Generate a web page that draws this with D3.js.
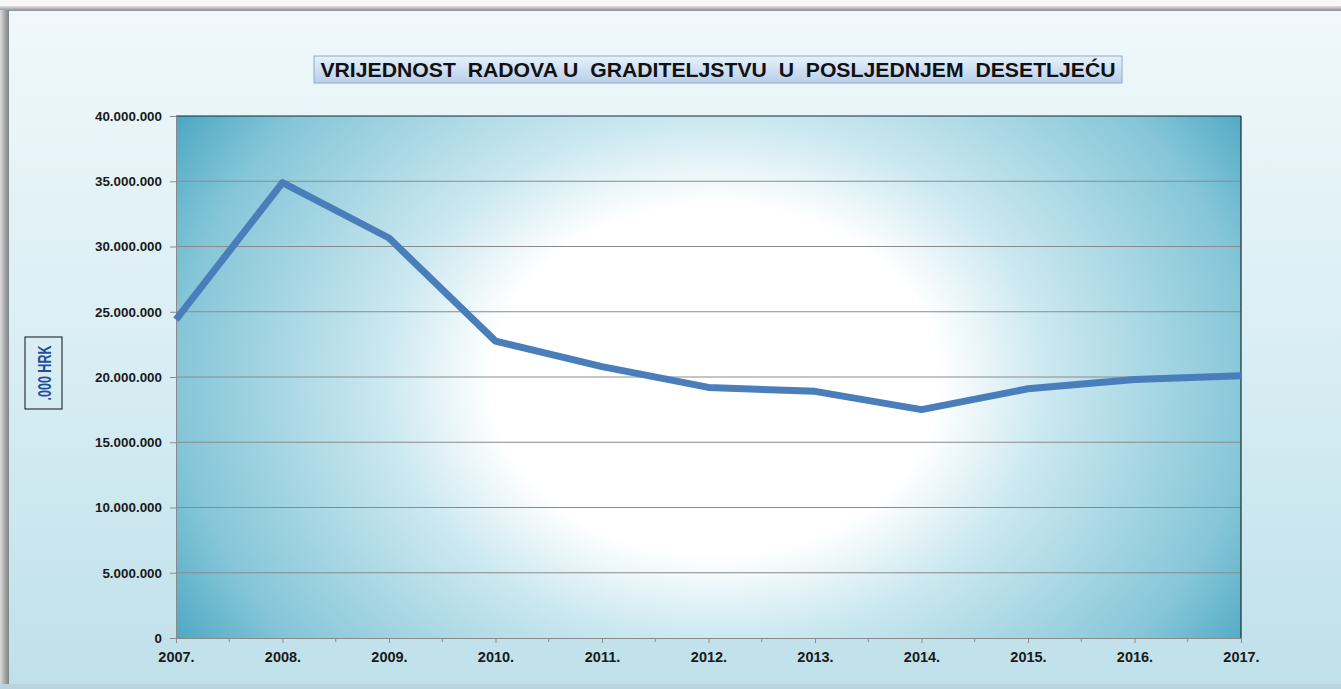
<!DOCTYPE html>
<html>
<head>
<meta charset="utf-8">
<script src="https://cdn.jsdelivr.net/npm/d3@7"></script>
<style>
html,body{margin:0;padding:0;background:#f6f6f6;}
svg{display:block;}
</style>
</head>
<body>
<svg id="chart" width="1341" height="689"></svg>
<script>
const years = ["2007.","2008.","2009.","2010.","2011.","2012.","2013.","2014.","2015.","2016.","2017."];
const values = [24400000, 34900000, 30650000, 22750000, 20800000, 19200000, 18900000, 17500000, 19100000, 19800000, 20100000];
const yTicks = [0, 5000000, 10000000, 15000000, 20000000, 25000000, 30000000, 35000000, 40000000];
const titleText = "VRIJEDNOST  RADOVA U  GRADITELJSTVU  U  POSLJEDNJEM  DESETLJEĆU";
const yAxisLabel = ".000 HRK";

const svg = d3.select("#chart");
const W = 1341, H = 689;
const defs = svg.append("defs");

const pg = defs.append("linearGradient").attr("id","panelGrad").attr("x1",0).attr("y1",0).attr("x2",0).attr("y2",1);
pg.append("stop").attr("offset","0%").attr("stop-color","#f0f8fb");
pg.append("stop").attr("offset","50%").attr("stop-color","#d9eef4");
pg.append("stop").attr("offset","100%").attr("stop-color","#bfe0ea");

const lg = defs.append("linearGradient").attr("id","leftShade").attr("x1",0).attr("y1",0).attr("x2",1).attr("y2",0);
lg.append("stop").attr("offset","0%").attr("stop-color","#dcdcdc");
lg.append("stop").attr("offset","60%").attr("stop-color","#9a9a9a");
lg.append("stop").attr("offset","100%").attr("stop-color","#6f7f85");

const tg = defs.append("linearGradient").attr("id","topShade").attr("x1",0).attr("y1",0).attr("x2",0).attr("y2",1);
tg.append("stop").attr("offset","0%").attr("stop-color","#e0e0e0");
tg.append("stop").attr("offset","100%").attr("stop-color","#7a7a7a");

const rg = defs.append("radialGradient").attr("id","plotGrad")
  .attr("gradientUnits","userSpaceOnUse")
  .attr("cx",715).attr("cy",380).attr("r",640)
  .attr("gradientTransform","translate(715,380) scale(1,0.78) translate(-715,-380)");
rg.append("stop").attr("offset","0%").attr("stop-color","#ffffff");
rg.append("stop").attr("offset","35%").attr("stop-color","#ffffff");
rg.append("stop").attr("offset","52%").attr("stop-color","#cbe8f0");
rg.append("stop").attr("offset","84%").attr("stop-color","#85c6d8");
rg.append("stop").attr("offset","100%").attr("stop-color","#4aa6c2");

const titleGrad = defs.append("linearGradient").attr("id","titleGrad").attr("x1",0).attr("y1",0).attr("x2",0).attr("y2",1);
titleGrad.append("stop").attr("offset","0%").attr("stop-color","#e8f1fb");
titleGrad.append("stop").attr("offset","100%").attr("stop-color","#b7cfe9");

svg.append("rect").attr("x",0).attr("y",0).attr("width",W).attr("height",H).attr("fill","#f7f7f7");
svg.append("rect").attr("x",0).attr("y",6).attr("width",W).attr("height",6).attr("fill","url(#topShade)");
svg.append("rect").attr("x",0).attr("y",10).attr("width",10).attr("height",H-10).attr("fill","url(#leftShade)");
svg.append("rect").attr("x",9).attr("y",11).attr("width",W-9).attr("height",673).attr("fill","url(#panelGrad)");
svg.append("rect").attr("x",0).attr("y",684).attr("width",W).attr("height",5).attr("fill","#b9d4dc");

const margin = {left:176, right:1241, top:116, bottom:638};
const x = d3.scalePoint().domain(years).range([margin.left, margin.right]);
const y = d3.scaleLinear().domain([0, 40000000]).range([margin.bottom, margin.top]);

svg.append("rect").attr("x",margin.left).attr("y",margin.top)
  .attr("width",margin.right-margin.left).attr("height",margin.bottom-margin.top)
  .attr("fill","url(#plotGrad)");

svg.append("g").selectAll("line").data(yTicks.filter(d=>d>0 && d<40000000)).join("line")
  .attr("x1",margin.left).attr("x2",margin.right)
  .attr("y1",d=>y(d)).attr("y2",d=>y(d))
  .attr("stroke","#8a8a8a").attr("stroke-width",1);

svg.append("line").attr("x1",margin.left).attr("x2",margin.right).attr("y1",margin.top).attr("y2",margin.top).attr("stroke","#1a2a30").attr("stroke-width",1.2);
svg.append("line").attr("x1",margin.right).attr("x2",margin.right).attr("y1",margin.top).attr("y2",margin.bottom).attr("stroke","#1a2a30").attr("stroke-width",1.2);

const fmt = d => d === 0 ? "0" : d3.format(",")(d).replace(/,/g,".");

const yAxis = d3.axisLeft(y).tickValues(yTicks).tickFormat(fmt).tickSize(6).tickPadding(8);
const gy = svg.append("g").attr("transform",`translate(${margin.left},0)`).call(yAxis);
gy.select(".domain").attr("stroke","#8a8a8a");
gy.selectAll(".tick line").attr("stroke","#8a8a8a");
gy.selectAll(".tick text").attr("font-family","Liberation Sans, Arial, sans-serif").attr("font-weight","bold").attr("font-size","13.4px").attr("fill","#1a1a1a");

const xAxis = d3.axisBottom(x).tickSize(5).tickPadding(9);
const gx = svg.append("g").attr("transform",`translate(0,${margin.bottom})`).call(xAxis);
gx.select(".domain").attr("stroke","#8a8a8a");
gx.selectAll(".tick line").attr("stroke","#8a8a8a");
gx.selectAll(".tick text").attr("font-family","Liberation Sans, Arial, sans-serif").attr("font-weight","bold").attr("font-size","14.5px").attr("fill","#1a1a1a");
const mids = years.slice(0,-1).map((d,i)=> (x(d)+x(years[i+1]))/2);
svg.append("g").selectAll("line").data(mids).join("line")
  .attr("x1",d=>d).attr("x2",d=>d).attr("y1",margin.bottom).attr("y2",margin.bottom+4)
  .attr("stroke","#8a8a8a");

const line = d3.line().x((d,i)=>x(years[i])).y(d=>y(d));
svg.append("path").datum(values).attr("d",line)
  .attr("fill","none").attr("stroke","#4a7ebb").attr("stroke-width",7)
  .attr("stroke-linejoin","round");

// title
svg.append("rect").attr("x",314).attr("y",56).attr("width",808).attr("height",27)
  .attr("fill","url(#titleGrad)").attr("stroke","#8ea9c6").attr("stroke-width",1);
const tG = svg.append("g");
const tT = tG.append("text").attr("x",0).attr("y",0).attr("text-anchor","middle")
  .attr("font-family","Liberation Sans, Arial, sans-serif").attr("font-weight","bold")
  .attr("font-size","19.5px").attr("fill","#111")
  .style("white-space","pre")
  .text(titleText);
const tw = tT.node().getComputedTextLength();
tG.attr("transform",`translate(718,77) scale(${796/tw},1)`);

// y label
svg.append("rect").attr("x",25).attr("y",337).attr("width",37).attr("height",72)
  .attr("fill","none").attr("stroke","#111").attr("stroke-width",1);
const lG = svg.append("g");
const lT = lG.append("text").attr("x",0).attr("y",0).attr("text-anchor","middle")
  .attr("font-family","Liberation Sans, Arial, sans-serif").attr("font-weight","bold")
  .attr("font-size","19px").attr("fill","#1f4e9a")
  .text(yAxisLabel);
const lw = lT.node().getComputedTextLength();
lG.attr("transform",`translate(50.5,373) rotate(-90) scale(${55/lw},1)`);
</script>
</body>
</html>
